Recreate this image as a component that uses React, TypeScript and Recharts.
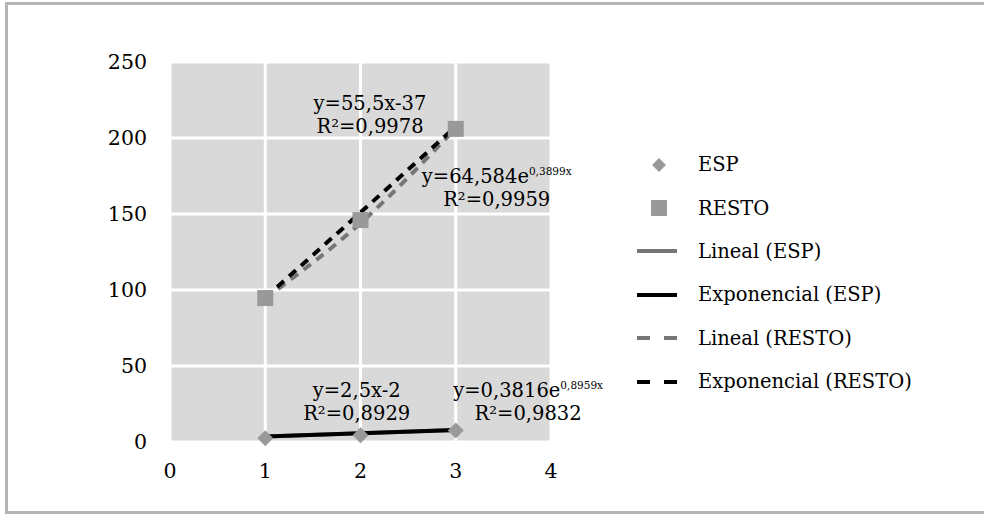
import {
  ComposedChart,
  CartesianGrid,
  Line,
  ReferenceDot,
  Scatter,
  XAxis,
  YAxis,
} from "recharts";

const xValues = [1, 2, 3];
const espValues = [2.5, 4.5, 7.5];
const restoValues = [94.7, 146, 206];
const linealEsp = [3.6, 5.7, 7.9];
const exponencialEsp = [3.6, 5.7, 7.9];
const linealResto = [94.5, 144, 206.5];
const exponencialResto = [95, 151, 207.5];

const xTicks = [0, 1, 2, 3, 4];
const yTicks = [0, 50, 100, 150, 200, 250];

const FONT = "'DejaVu Serif', serif";
const MARKER = "#999999";
const GRAY_LINE = "#767676";

const data = xValues.map((x, i) => ({
  x,
  esp: espValues[i],
  resto: restoValues[i],
  linEsp: linealEsp[i],
  expEsp: exponencialEsp[i],
  linResto: linealResto[i],
  expResto: exponencialResto[i],
}));

// equation labels, anchored at data coordinates (centre of first line)
const equations = [
  { x: 2.1, y: 223, main: "y=55,5x-37", sup: "", r2: "0,9978" },
  { x: 3.43, y: 175, main: "y=64,584e", sup: "0,3899x", r2: "0,9959" },
  { x: 1.96, y: 34, main: "y=2,5x-2", sup: "", r2: "0,8929" },
  { x: 3.76, y: 34, main: "y=0,3816e", sup: "0,8959x", r2: "0,9832" },
];

const legendItems = [
  { label: "ESP", kind: "diamond", color: MARKER },
  { label: "RESTO", kind: "square", color: MARKER },
  { label: "Lineal (ESP)", kind: "line", color: GRAY_LINE },
  { label: "Exponencial (ESP)", kind: "line", color: "#000" },
  { label: "Lineal (RESTO)", kind: "dash", color: GRAY_LINE },
  { label: "Exponencial (RESTO)", kind: "dash", color: "#000" },
];

function Diamond(props: any) {
  const { cx, cy } = props;
  const r = 8;
  return (
    <path
      d={`M${cx},${cy - r}L${cx + r},${cy}L${cx},${cy + r}L${cx - r},${cy}Z`}
      fill={MARKER}
    />
  );
}

function Square(props: any) {
  const { cx, cy } = props;
  return <rect x={cx - 8} y={cy - 8} width={16} height={16} fill={MARKER} />;
}

function EqLabel(props: any, eq: (typeof equations)[number]) {
  const { viewBox } = props;
  const cx = viewBox.x + viewBox.width / 2;
  const cy = viewBox.y + viewBox.height / 2;
  return (
    <g fontFamily={FONT} fontSize={19.5} fill="#000">
      <text x={cx} y={cy + 7} textAnchor="middle">
        {eq.main}
        {eq.sup && (
          <tspan fontSize={10.5} dy={-8}>
            {eq.sup}
          </tspan>
        )}
      </text>
      <text x={cx} y={cy + 30} textAnchor="middle">
        R²={eq.r2}
      </text>
    </g>
  );
}

function LegendBox() {
  return (
    <div
      style={{
        position: "absolute",
        left: 637,
        top: 143,
        fontFamily: FONT,
        fontSize: 19.5,
        color: "#000",
      }}
    >
      {legendItems.map((it) => (
        <div
          key={it.label}
          style={{ display: "flex", alignItems: "center", height: 43.4 }}
        >
          <svg width={61} height={20}>
            {it.kind === "diamond" && (
              <path d="M22,3L29,10L22,17L15,10Z" fill={it.color} />
            )}
            {it.kind === "square" && (
              <rect x={14} y={2} width={16} height={16} fill={it.color} />
            )}
            {it.kind === "line" && (
              <line x1={0} y1={10} x2={40} y2={10} stroke={it.color} strokeWidth={4} />
            )}
            {it.kind === "dash" && (
              <line
                x1={0}
                y1={10}
                x2={40}
                y2={10}
                stroke={it.color}
                strokeWidth={4}
                strokeDasharray="13 14"
              />
            )}
          </svg>
          <span>{it.label}</span>
        </div>
      ))}
    </div>
  );
}

export default function App() {
  return (
    <div
      style={{
        position: "absolute",
        left: 0,
        top: 0,
        width: 984,
        height: 514,
        overflow: "hidden",
        background: "#fff",
      }}
    >
      <div
        style={{
          position: "absolute",
          left: 5,
          top: 2,
          width: 979,
          height: 512,
          borderTop: "3px solid #b5b5b5",
          borderLeft: "3px solid #b5b5b5",
          borderBottom: "3px solid #b5b5b5",
          boxSizing: "border-box",
        }}
      />
      <div style={{ position: "absolute", left: 0, top: 0 }}>
        <ComposedChart
          width={984}
          height={514}
          data={data}
          margin={{ top: 62, right: 433, bottom: 0, left: 0 }}
        >
          <CartesianGrid fill="#d9d9d9" stroke="#ffffff" strokeWidth={3} />
          <XAxis
            dataKey="x"
            type="number"
            domain={[0, 4]}
            ticks={xTicks}
            height={72}
            axisLine={false}
            tickLine={false}
            tickSize={0}
            tickMargin={21}
            tick={{ fill: "#000", fontSize: 20.5, fontFamily: FONT }}
          />
          <YAxis
            type="number"
            domain={[0, 250]}
            ticks={yTicks}
            width={170}
            axisLine={false}
            tickLine={false}
            tickSize={0}
            tickMargin={23}
            tick={{ fill: "#000", fontSize: 20.5, fontFamily: FONT }}
          />
          <Scatter dataKey="esp" shape={Diamond} isAnimationActive={false} />
          <Scatter dataKey="resto" shape={Square} isAnimationActive={false} />
          <Line
            type="linear"
            dataKey="linEsp"
            stroke={GRAY_LINE}
            strokeWidth={4}
            dot={false}
            activeDot={false}
            isAnimationActive={false}
          />
          <Line
            type="linear"
            dataKey="expEsp"
            stroke="#000"
            strokeWidth={4}
            dot={false}
            activeDot={false}
            isAnimationActive={false}
          />
          <Line
            type="monotone"
            dataKey="linResto"
            stroke={GRAY_LINE}
            strokeWidth={4}
            strokeDasharray="9 7"
            dot={false}
            activeDot={false}
            isAnimationActive={false}
          />
          <Line
            type="monotone"
            dataKey="expResto"
            stroke="#000"
            strokeWidth={4}
            strokeDasharray="9 7"
            dot={false}
            activeDot={false}
            isAnimationActive={false}
          />
          {equations.map((eq) => (
            <ReferenceDot
              key={eq.main}
              x={eq.x}
              y={eq.y}
              r={0}
              fill="none"
              stroke="none"
              ifOverflow="visible"
              label={(p: any) => EqLabel(p, eq)}
            />
          ))}
        </ComposedChart>
      </div>
      <LegendBox />
    </div>
  );
}
